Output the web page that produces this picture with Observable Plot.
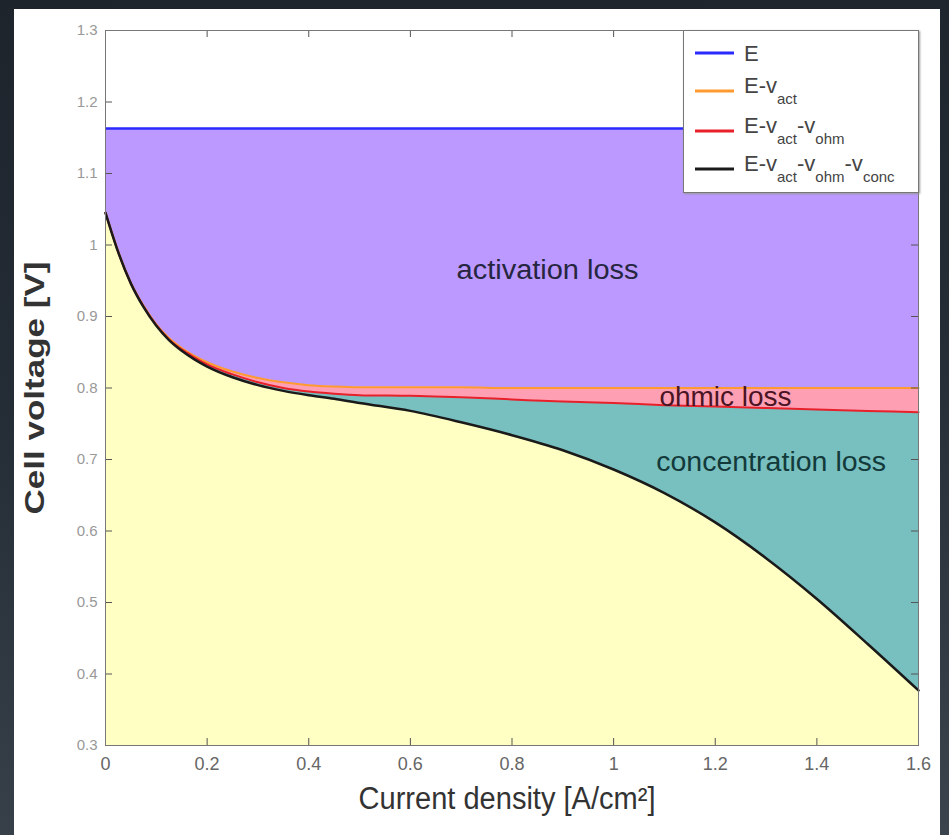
<!DOCTYPE html>
<html><head><meta charset="utf-8">
<script src="https://cdn.jsdelivr.net/npm/d3@7"></script>
<script src="https://cdn.jsdelivr.net/npm/@observablehq/plot@0.6"></script>
<style>
html,body{margin:0;padding:0;}
body{width:949px;height:835px;overflow:hidden;position:relative;
  background:linear-gradient(175deg,#1d242c 0%,#242c35 45%,#3b444d 100%);
  font-family:"Liberation Sans",Arial,sans-serif;}
#panel{position:absolute;left:14px;top:9px;width:926px;height:826px;background:#fff;}
#chart{position:absolute;left:0;top:0;}
#legend{position:absolute;left:669px;top:21px;width:234px;height:161px;
  border:1px solid #777;background:#fff;box-shadow:1px 1px 2px #999;}
</style></head>
<body>
<div id="panel"><div id="chart"></div><div id="legend"></div></div>
<script>
// ---- data ----
const currentDensity = [0, 0.025, 0.05, 0.075, 0.1, 0.125, 0.15, 0.175, 0.2, 0.25, 0.3, 0.35, 0.4, 0.45, 0.5, 0.6, 0.7, 0.8, 0.9, 1.0, 1.1, 1.2, 1.3, 1.4, 1.5, 1.6];
const E = 1.163;
const eMinusAct = [1.045, 0.991, 0.947, 0.915, 0.889, 0.870, 0.856, 0.845, 0.836, 0.823, 0.814, 0.808, 0.804, 0.802, 0.801, 0.801, 0.801, 0.800, 0.800, 0.800, 0.800, 0.800, 0.800, 0.800, 0.800, 0.800];
const eMinusActOhm = [1.045, 0.990, 0.946, 0.914, 0.888, 0.868, 0.854, 0.843, 0.833, 0.819, 0.808, 0.800, 0.795, 0.792, 0.790, 0.789, 0.787, 0.784, 0.781, 0.779, 0.776, 0.774, 0.772, 0.770, 0.768, 0.766];
const eMinusAll = [1.045, 0.990, 0.946, 0.913, 0.887, 0.867, 0.852, 0.840, 0.830, 0.815, 0.804, 0.796, 0.790, 0.785, 0.779, 0.768, 0.752, 0.734, 0.713, 0.686, 0.653, 0.612, 0.562, 0.505, 0.442, 0.377];
const xTicks = [0, 0.2, 0.4, 0.6, 0.8, 1.0, 1.2, 1.4, 1.6];
const xTickLabels = ["0", "0.2", "0.4", "0.6", "0.8", "1", "1.2", "1.4", "1.6"];
const yTicks = [0.3, 0.4, 0.5, 0.6, 0.7, 0.8, 0.9, 1.0, 1.1, 1.2, 1.3];
const yTickLabels = ["0.3", "0.4", "0.5", "0.6", "0.7", "0.8", "0.9", "1", "1.1", "1.2", "1.3"];
const regionLabels = ["activation loss", "ohmic loss", "concentration loss"];
const regionX = [0.87, 1.22, 1.31];
const regionY = [0.964, 0.787, 0.696];
const legendNames = ["E", "E-v_act", "E-v_act-v_ohm", "E-v_act-v_ohm-v_conc"];
const legendColors = ["#2a2aff", "#ff9a30", "#e8202a", "#1a1a1a"];

const rows = currentDensity.map((x, i) => ({x, e: E, act: eMinusAct[i], ohm: eMinusActOhm[i], all: eMinusAll[i]}));
const labels = regionLabels.map((t, i) => ({t, x: regionX[i], y: regionY[i]}));
const curve = "monotone-x";
const narrow = "'Liberation Sans Narrow','Arial Narrow','Liberation Sans',Arial,sans-serif";
const frameW = 813, frameH = 715, tickLen = 7;

const chart = Plot.plot({
  width: 926, height: 826,
  marginLeft: 91, marginRight: 22, marginTop: 21, marginBottom: 90,
  x: {domain: [0, 1.6]},
  y: {domain: [0.3, 1.3]},
  style: {background: "transparent", fontFamily: "'Liberation Sans',Arial,sans-serif"},
  marks: [
    Plot.areaY(rows, {x: "x", y1: 0.3, y2: "all", fill: "#ffffc4", curve}),
    Plot.areaY(rows, {x: "x", y1: "all", y2: "ohm", fill: "#78bfbf", curve}),
    Plot.areaY(rows, {x: "x", y1: "ohm", y2: "act", fill: "#ff9fb3", curve}),
    Plot.areaY(rows, {x: "x", y1: "act", y2: "e", fill: "#bb99ff", curve}),
    Plot.ruleY([E], {stroke: legendColors[0], strokeWidth: 2.5}),
    Plot.line(rows, {x: "x", y: "act", stroke: legendColors[1], strokeWidth: 2, curve}),
    Plot.line(rows, {x: "x", y: "ohm", stroke: legendColors[2], strokeWidth: 2, curve}),
    Plot.line(rows, {x: "x", y: "all", stroke: legendColors[3], strokeWidth: 2.5, curve}),
    Plot.text(labels, {x: "x", y: "y", text: "t", fontSize: 27, lineAnchor: "middle",
      fill: (d, i) => ["#262640", "#4a1424", "#133a3a"][i]}),
    // inward ticks on all four sides
    Plot.tickX(xTicks, {x: d => d, insetTop: frameH - tickLen, stroke: "#555"}),
    Plot.tickX(xTicks, {x: d => d, insetBottom: frameH - tickLen, stroke: "#555"}),
    Plot.tickY(yTicks, {y: d => d, insetRight: frameW - tickLen, stroke: "#555"}),
    Plot.tickY(yTicks, {y: d => d, insetLeft: frameW - tickLen, stroke: "#555"}),
    Plot.frame({stroke: "#777"}),
    Plot.axisX({anchor: "bottom", ticks: xTicks, tickSize: 0, tickPadding: 12, tickFormat: (d, i) => xTickLabels[i],
      fontSize: 18, fill: "#666", fontFamily: narrow, label: null}),
    Plot.axisY({anchor: "left", ticks: yTicks, tickSize: 0, tickPadding: 8, tickFormat: (d, i) => yTickLabels[i],
      fontSize: 15, fill: "#999", label: null}),
    Plot.text(["Cell voltage [V]"], {frameAnchor: "left", textAnchor: "middle", dx: -70, rotate: -90, fontSize: 28, fontWeight: "bold", fill: "#333"}),
    Plot.text(["Current density [A/cm²]"], {frameAnchor: "bottom", textAnchor: "middle", dx: -5, dy: 63, fontSize: 31, fill: "#333", fontFamily: narrow})
  ]
});
document.getElementById("chart").appendChild(chart);

// fit label widths to the reference's condensed look
const fitWidths = {"activation loss": 182, "ohmic loss": 132, "concentration loss": 230, "Cell voltage [V]": 253, "Current density [A/cm²]": 297};
d3.select(chart).selectAll("text").each(function() {
  const w = fitWidths[this.textContent];
  if (w) d3.select(this).attr("textLength", w).attr("lengthAdjust", "spacingAndGlyphs");
});

// legend
const lg = d3.select("#legend").append("svg").attr("width", 234).attr("height", 161)
  .style("font-family", "'Liberation Sans',Arial,sans-serif");
const rowY = [22, 60, 100, 138];
legendNames.forEach((name, i) => {
  lg.append("line").attr("x1", 11).attr("x2", 50).attr("y1", rowY[i]).attr("y2", rowY[i])
    .attr("stroke", legendColors[i]).attr("stroke-width", 3);
  const parts = name.split("-");
  const t = lg.append("text").attr("x", 60).attr("y", rowY[i] + (i === 0 ? 8 : 2))
    .attr("fill", "#444").attr("font-size", 22);
  let lowered = false;
  parts.forEach((p, j) => {
    const [main, sub] = p.split("_");
    t.append("tspan").text((j > 0 ? "-" : "") + main).attr("font-size", 22).attr("dy", lowered ? -11 : 0);
    lowered = false;
    if (sub) { t.append("tspan").text(sub).attr("font-size", 15).attr("dy", 11); lowered = true; }
  });
});
</script>
</body></html>
